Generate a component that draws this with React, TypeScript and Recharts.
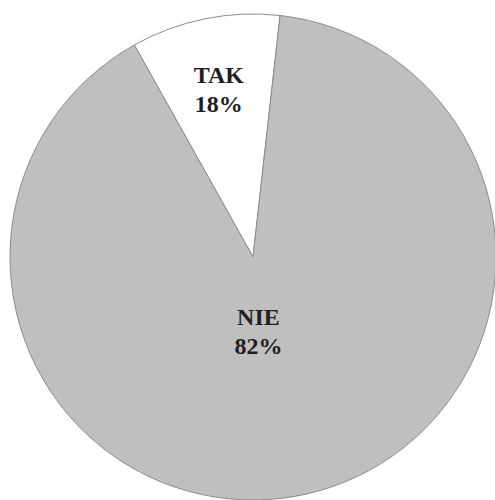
import { PieChart, Pie, Cell } from 'recharts';

// slice sizes, printed labels as shown
const categories = ['TAK', 'NIE'];
const values = [9.9, 90.1];
const percentLabels = ['18%', '82%'];

const COLORS: Record<string, string> = {
    TAK: '#ffffff',
    NIE: '#bfbfbf',
};

const data = categories.map((name, i) => ({
    name,
    value: values[i],
    pct: percentLabels[i],
}));

const RADIAN = Math.PI / 180;
const FONT = 'Liberation Serif';

// eslint-disable-next-line @typescript-eslint/no-explicit-any
const renderLabel = (props: any) => {
    const { cx, cy, midAngle, outerRadius, index } = props;
    const factor = index === 0 ? 0.71 : 0.3;
    const shiftX = index === 0 ? 0 : -9;
    const shiftY = index === 0 ? 1 : 3;
    const r = outerRadius * factor;
    const x = cx + r * Math.cos(-midAngle * RADIAN) + shiftX;
    const y = cy + r * Math.sin(-midAngle * RADIAN) + shiftY;
    return (
        <text
            key={`label-${index}`}
            x={x}
            y={y}
            textAnchor="middle"
            fill="#1f1f1f"
            style={{ fontFamily: FONT, fontWeight: 700, fontSize: 24 }}
        >
            <tspan x={x} dy={-6}>{data[index].name}</tspan>
            <tspan x={x} dy={29}>{data[index].pct}</tspan>
        </text>
    );
};

export default function App() {
    return (
        <div style={{ position: 'absolute', left: 0, top: 0, background: '#ffffff' }}>
            <PieChart width={495} height={500} margin={{ top: 0, right: 0, bottom: 0, left: 0 }}>
                <Pie
                    data={data}
                    dataKey="value"
                    cx={253}
                    cy={257}
                    outerRadius={243}
                    startAngle={83.6}
                    endAngle={443.6}
                    stroke="#8c8c8c"
                    strokeWidth={1}
                    label={renderLabel}
                    labelLine={false}
                    isAnimationActive={false}
                >
                    {data.map((entry, index) => (
                        <Cell key={`cell-${index}`} fill={COLORS[entry.name]} />
                    ))}
                </Pie>
            </PieChart>
        </div>
    );
}
